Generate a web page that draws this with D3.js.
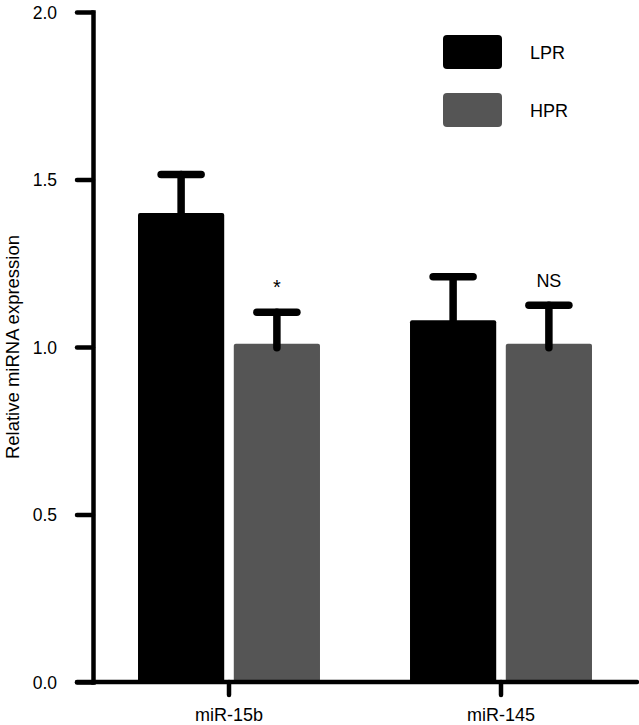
<!DOCTYPE html>
<html>
<head>
<meta charset="utf-8">
<script src="https://cdn.jsdelivr.net/npm/d3@7"></script>
<style>
  body { margin: 0; background: #fff; }
  text { font-family: "Liberation Sans", Arial, Helvetica, sans-serif; fill: #000; }
</style>
</head>
<body>
<svg id="chart" width="639" height="725"></svg>
<script>
// data
const groups = ["miR-15b", "miR-145"];
const series = ["LPR", "HPR"];
const lprMeans = [1.40, 1.08];
const lprErrors = [0.115, 0.13];
const hprMeans = [1.01, 1.01];
const hprErrors = [0.094, 0.115];
const sigLabels = ["*", "NS"];
const yTicks = [0, 0.5, 1.0, 1.5, 2.0];

const colors = {LPR: "#000000", HPR: "#555555"};
const svg = d3.select("#chart");

const y = d3.scaleLinear().domain([0, 2]).range([682, 12]);
const x0 = d3.scaleBand().domain(groups).range([93, 637]).padding(0);
const x1 = d3.scaleBand().domain(series).range([0, x0.bandwidth()])
  .paddingInner(0.1).paddingOuter(0.47);

// rows for each bar
const rows = [];
groups.forEach((g, i) => {
  rows.push({group: g, series: "LPR", value: lprMeans[i], err: lprErrors[i], sig: ""});
  rows.push({group: g, series: "HPR", value: hprMeans[i], err: hprErrors[i], sig: sigLabels[i]});
});

const axisStroke = 4.5;

// bars
svg.append("g").selectAll("rect")
  .data(rows)
  .enter().append("rect")
  .attr("x", d => x0(d.group) + x1(d.series))
  .attr("y", d => y(d.value))
  .attr("width", x1.bandwidth())
  .attr("height", d => y(0) - y(d.value))
  .attr("rx", 2)
  .attr("fill", d => colors[d.series]);

// error bars (upper only)
const err = svg.append("g");
err.selectAll(".stem").data(rows).enter().append("line")
  .attr("x1", d => x0(d.group) + x1(d.series) + x1.bandwidth() / 2)
  .attr("x2", d => x0(d.group) + x1(d.series) + x1.bandwidth() / 2)
  .attr("y1", d => y(d.value) + 4)
  .attr("y2", d => y(d.value + d.err))
  .attr("stroke", "#000").attr("stroke-width", 7.5).attr("stroke-linecap", "round");
err.selectAll(".cap").data(rows).enter().append("line")
  .attr("x1", d => x0(d.group) + x1(d.series) + x1.bandwidth() / 2 - 20)
  .attr("x2", d => x0(d.group) + x1(d.series) + x1.bandwidth() / 2 + 20)
  .attr("y1", d => y(d.value + d.err))
  .attr("y2", d => y(d.value + d.err))
  .attr("stroke", "#000").attr("stroke-width", 7.5).attr("stroke-linecap", "round");

// significance labels
svg.append("g").selectAll("text")
  .data(rows.filter(d => d.sig !== ""))
  .enter().append("text")
  .attr("x", d => x0(d.group) + x1(d.series) + x1.bandwidth() / 2)
  .attr("y", d => y(d.value + d.err) - 18)
  .attr("text-anchor", "middle")
  .attr("font-size", d => d.sig === "*" ? 20 : 18)
  .text(d => d.sig);

// y axis
const yAxisG = svg.append("g")
  .attr("transform", `translate(${x0.range()[0]},0)`)
  .call(d3.axisLeft(y).tickValues(yTicks).tickFormat(d3.format(".1f")).tickSize(16).tickSizeOuter(0).tickPadding(20));
yAxisG.select(".domain").attr("stroke-width", axisStroke).attr("stroke-linecap", "square");
yAxisG.selectAll(".tick line").attr("stroke-width", axisStroke).attr("stroke-linecap", "round");
yAxisG.selectAll(".tick text").attr("font-size", 17.5).attr("font-family", null).attr("dy", "0.36em");

// x axis
const xAxisG = svg.append("g")
  .attr("transform", `translate(0,${y(0)})`)
  .call(d3.axisBottom(x0).tickSize(13).tickSizeOuter(0).tickPadding(13));
xAxisG.select(".domain")
  .attr("d", `M${x0.range()[0] - 16},0H${x0.range()[1]}`)
  .attr("stroke-width", axisStroke).attr("stroke-linecap", "round");
xAxisG.selectAll(".tick line").attr("stroke-width", axisStroke).attr("stroke-linecap", "round");
xAxisG.selectAll(".tick text").attr("font-size", 18).attr("font-family", null);

// y axis title
svg.append("text")
  .attr("transform", `translate(19,${(y(0) + y(2)) / 2}) rotate(-90)`)
  .attr("text-anchor", "middle")
  .attr("font-size", 18.5)
  .text("Relative miRNA expression");

// legend
const legend = svg.append("g").selectAll("g")
  .data(series)
  .enter().append("g")
  .attr("transform", (d, i) => `translate(443,${35 + i * 58})`);
legend.append("rect")
  .attr("width", 59).attr("height", 34).attr("rx", 4)
  .attr("fill", d => colors[d]);
legend.append("text")
  .attr("x", 87).attr("y", 18).attr("dy", "0.36em")
  .attr("font-size", 18)
  .text(d => d);
</script>
</body>
</html>
